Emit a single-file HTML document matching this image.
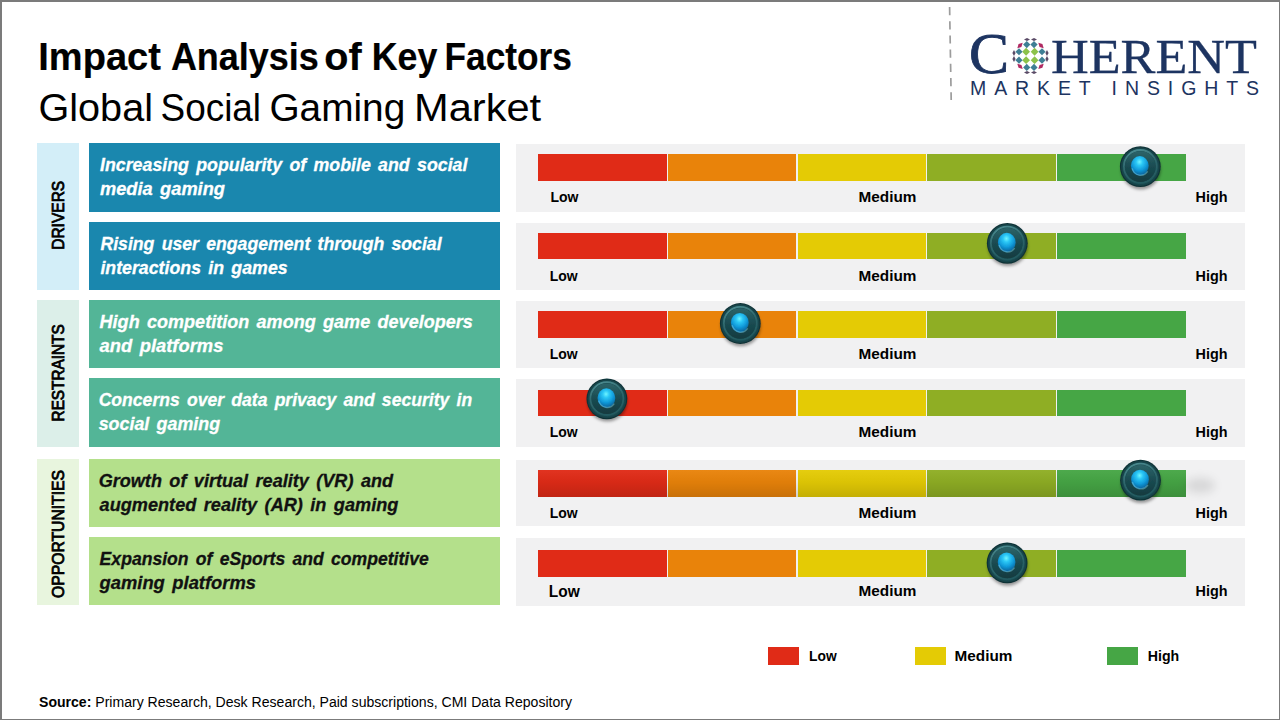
<!DOCTYPE html>
<html><head><meta charset="utf-8"><title>Impact Analysis of Key Factors - Global Social Gaming Market</title>
<style>html,body{margin:0;padding:0;background:#fff;} svg{display:block;}</style></head>
<body><svg width="1280" height="720" viewBox="0 0 1280 720">
<defs>
 <linearGradient id="kRing" x1="0" y1="0" x2="0.3" y2="1">
  <stop offset="0%" stop-color="#4f9095"/>
  <stop offset="50%" stop-color="#2f686d"/>
  <stop offset="100%" stop-color="#245a5f"/>
 </linearGradient>
 <linearGradient id="kBowl" x1="0" y1="0" x2="0" y2="1">
  <stop offset="0%" stop-color="#2d6469"/>
  <stop offset="50%" stop-color="#1a4b51"/>
  <stop offset="100%" stop-color="#123a3f"/>
 </linearGradient>
 <radialGradient id="kOuter" cx="50%" cy="50%" r="50%">
  <stop offset="0%" stop-color="#1c4d53"/>
  <stop offset="90%" stop-color="#1a4a50"/>
  <stop offset="100%" stop-color="#143e43"/>
 </radialGradient>
 <radialGradient id="kBall" cx="48%" cy="30%" r="65%">
  <stop offset="0%" stop-color="#6ff4ff"/>
  <stop offset="28%" stop-color="#2cc8f6"/>
  <stop offset="68%" stop-color="#1098d8"/>
  <stop offset="100%" stop-color="#0b6aa2"/>
 </radialGradient>
 <filter id="kShadow" x="-50%" y="-50%" width="200%" height="200%"><feGaussianBlur stdDeviation="1.8"/></filter>
 <filter id="kSoft" x="-10%" y="-10%" width="120%" height="120%"><feGaussianBlur stdDeviation="0.45"/></filter>
 <linearGradient id="b5shade" x1="0" y1="0" x2="0" y2="1">
  <stop offset="0%" stop-color="#fff" stop-opacity="0.04"/>
  <stop offset="45%" stop-color="#000" stop-opacity="0.04"/>
  <stop offset="100%" stop-color="#000" stop-opacity="0.14"/>
 </linearGradient>
 <filter id="bShadow" x="-100%" y="-100%" width="300%" height="300%"><feGaussianBlur stdDeviation="4"/></filter>

</defs>

<rect x="0" y="0" width="1280" height="720" fill="#7b7b7b"/>
<rect x="2" y="2" width="1277" height="717" fill="#ffffff"/>
<text x="38.30" y="70" font-family='"Liberation Sans", sans-serif' font-size="39.4" font-weight="bold" font-style="normal" fill="#000" textLength="122.63" lengthAdjust="spacingAndGlyphs" stroke="#000" stroke-width="0.2">Impact</text>
<text x="170.89" y="70" font-family='"Liberation Sans", sans-serif' font-size="39.4" font-weight="bold" font-style="normal" fill="#000" textLength="147.97" lengthAdjust="spacingAndGlyphs" stroke="#000" stroke-width="0.2">Analysis</text>
<text x="324.19" y="70" font-family='"Liberation Sans", sans-serif' font-size="39.4" font-weight="bold" font-style="normal" fill="#000" textLength="37.40" lengthAdjust="spacingAndGlyphs" stroke="#000" stroke-width="0.2">of</text>
<text x="371.78" y="70" font-family='"Liberation Sans", sans-serif' font-size="39.4" font-weight="bold" font-style="normal" fill="#000" textLength="65.56" lengthAdjust="spacingAndGlyphs" stroke="#000" stroke-width="0.2">Key</text>
<text x="444.52" y="70" font-family='"Liberation Sans", sans-serif' font-size="39.4" font-weight="bold" font-style="normal" fill="#000" textLength="127.35" lengthAdjust="spacingAndGlyphs" stroke="#000" stroke-width="0.2">Factors</text>
<text x="38.48" y="121" font-family='"Liberation Sans", sans-serif' font-size="39.2" font-weight="normal" font-style="normal" fill="#000" textLength="114.53" lengthAdjust="spacingAndGlyphs" >Global</text>
<text x="160.52" y="121" font-family='"Liberation Sans", sans-serif' font-size="39.2" font-weight="normal" font-style="normal" fill="#000" textLength="100.56" lengthAdjust="spacingAndGlyphs" >Social</text>
<text x="269.42" y="121" font-family='"Liberation Sans", sans-serif' font-size="39.2" font-weight="normal" font-style="normal" fill="#000" textLength="135.88" lengthAdjust="spacingAndGlyphs" >Gaming</text>
<text x="414.02" y="121" font-family='"Liberation Sans", sans-serif' font-size="39.2" font-weight="normal" font-style="normal" fill="#000" textLength="127.14" lengthAdjust="spacingAndGlyphs" >Market</text>
<rect x="37" y="143" width="42" height="147" fill="#d3eef8"/>
<text transform="translate(64.1 215.3) rotate(-90)" x="0" y="0" font-family='"Liberation Sans", sans-serif' font-size="17.2" font-weight="normal" fill="#000" stroke="#000" stroke-width="0.85" text-anchor="middle" textLength="69" lengthAdjust="spacingAndGlyphs">DRIVERS</text>
<rect x="37" y="300" width="42" height="147" fill="#dcefe9"/>
<text transform="translate(64.1 372.9) rotate(-90)" x="0" y="0" font-family='"Liberation Sans", sans-serif' font-size="17.2" font-weight="normal" fill="#000" stroke="#000" stroke-width="0.85" text-anchor="middle" textLength="97" lengthAdjust="spacingAndGlyphs">RESTRAINTS</text>
<rect x="37" y="459" width="42" height="146" fill="#e8f5de"/>
<text transform="translate(64.1 534) rotate(-90)" x="0" y="0" font-family='"Liberation Sans", sans-serif' font-size="17.2" font-weight="normal" fill="#000" stroke="#000" stroke-width="0.85" text-anchor="middle" textLength="128" lengthAdjust="spacingAndGlyphs">OPPORTUNITIES</text>
<rect x="89" y="143" width="411" height="69" fill="#1a87ae"/>
<text x="100.00" y="170.6" font-family='"Liberation Sans", sans-serif' font-size="18.9" font-weight="bold" font-style="italic" fill="#ffffff" textLength="367.43" lengthAdjust="spacingAndGlyphs" word-spacing="2.5" stroke="#ffffff" stroke-width="0.3">Increasing popularity of mobile and social</text>
<text x="100.00" y="194.6" font-family='"Liberation Sans", sans-serif' font-size="18.9" font-weight="bold" font-style="italic" fill="#ffffff" textLength="124.90" lengthAdjust="spacingAndGlyphs" word-spacing="2.5" stroke="#ffffff" stroke-width="0.3">media gaming</text>
<rect x="89" y="222" width="411" height="68" fill="#1a87ae"/>
<text x="100.40" y="249.6" font-family='"Liberation Sans", sans-serif' font-size="18.9" font-weight="bold" font-style="italic" fill="#ffffff" textLength="341.20" lengthAdjust="spacingAndGlyphs" word-spacing="2.5" stroke="#ffffff" stroke-width="0.3">Rising user engagement through social</text>
<text x="100.40" y="273.6" font-family='"Liberation Sans", sans-serif' font-size="18.9" font-weight="bold" font-style="italic" fill="#ffffff" textLength="187.25" lengthAdjust="spacingAndGlyphs" word-spacing="2.5" stroke="#ffffff" stroke-width="0.3">interactions in games</text>
<rect x="89" y="300" width="411" height="68" fill="#53b597"/>
<text x="99.60" y="327.6" font-family='"Liberation Sans", sans-serif' font-size="18.9" font-weight="bold" font-style="italic" fill="#ffffff" textLength="373.18" lengthAdjust="spacingAndGlyphs" word-spacing="2.5" stroke="#ffffff" stroke-width="0.3">High competition among game developers</text>
<text x="99.60" y="351.6" font-family='"Liberation Sans", sans-serif' font-size="18.9" font-weight="bold" font-style="italic" fill="#ffffff" textLength="123.77" lengthAdjust="spacingAndGlyphs" word-spacing="2.5" stroke="#ffffff" stroke-width="0.3">and platforms</text>
<rect x="89" y="378" width="411" height="69" fill="#53b597"/>
<text x="98.67" y="405.6" font-family='"Liberation Sans", sans-serif' font-size="18.9" font-weight="bold" font-style="italic" fill="#ffffff" textLength="373.46" lengthAdjust="spacingAndGlyphs" word-spacing="2.5" stroke="#ffffff" stroke-width="0.3">Concerns over data privacy and security in</text>
<text x="98.65" y="429.6" font-family='"Liberation Sans", sans-serif' font-size="18.9" font-weight="bold" font-style="italic" fill="#ffffff" textLength="121.50" lengthAdjust="spacingAndGlyphs" word-spacing="2.5" stroke="#ffffff" stroke-width="0.3">social gaming</text>
<rect x="89" y="459" width="411" height="68" fill="#b4e08b"/>
<text x="98.64" y="486.6" font-family='"Liberation Sans", sans-serif' font-size="18.9" font-weight="bold" font-style="italic" fill="#111111" textLength="294.42" lengthAdjust="spacingAndGlyphs" word-spacing="2.5" stroke="#111111" stroke-width="0.3">Growth of virtual reality (VR) and</text>
<text x="99.60" y="510.6" font-family='"Liberation Sans", sans-serif' font-size="18.9" font-weight="bold" font-style="italic" fill="#111111" textLength="298.74" lengthAdjust="spacingAndGlyphs" word-spacing="2.5" stroke="#111111" stroke-width="0.3">augmented reality (AR) in gaming</text>
<rect x="89" y="537" width="411" height="68" fill="#b4e08b"/>
<text x="99.60" y="564.6" font-family='"Liberation Sans", sans-serif' font-size="18.9" font-weight="bold" font-style="italic" fill="#111111" textLength="329.23" lengthAdjust="spacingAndGlyphs" word-spacing="2.5" stroke="#111111" stroke-width="0.3">Expansion of eSports and competitive</text>
<text x="99.60" y="588.6" font-family='"Liberation Sans", sans-serif' font-size="18.9" font-weight="bold" font-style="italic" fill="#111111" textLength="156.37" lengthAdjust="spacingAndGlyphs" word-spacing="2.5" stroke="#111111" stroke-width="0.3">gaming platforms</text>
<rect x="516" y="144" width="729" height="68" fill="#f1f1f2"/>
<rect x="538" y="154" width="129" height="27" fill="#e02b17"/>
<rect x="668" y="154" width="128" height="27" fill="#e9830a"/>
<rect x="798" y="154" width="128" height="27" fill="#e4cb05"/>
<rect x="927" y="154" width="129" height="27" fill="#8fae24"/>
<rect x="1057" y="154" width="129" height="27" fill="#46a645"/>
<text x="550.50" y="202" font-family='"Liberation Sans", sans-serif' font-size="14" font-weight="bold" font-style="normal" fill="#000" textLength="28.00" lengthAdjust="spacingAndGlyphs" >Low</text>
<text x="858.51" y="202" font-family='"Liberation Sans", sans-serif' font-size="14" font-weight="bold" font-style="normal" fill="#000" textLength="57.87" lengthAdjust="spacingAndGlyphs" >Medium</text>
<text x="1195.57" y="202" font-family='"Liberation Sans", sans-serif' font-size="14" font-weight="bold" font-style="normal" fill="#000" textLength="31.97" lengthAdjust="spacingAndGlyphs" >High</text>
<g transform="translate(1140.3 166.6)">
  <circle cx="0.5" cy="2.8" r="20" fill="rgba(0,0,0,0.38)" filter="url(#kShadow)"/>
  <g filter="url(#kSoft)">
  <circle cx="0" cy="0" r="20.4" fill="#0f3236"/>
  <circle cx="0" cy="0" r="19.4" fill="url(#kOuter)"/>
  <circle cx="0" cy="-0.2" r="16.4" fill="none" stroke="url(#kRing)" stroke-width="1.8"/>
  <circle cx="0" cy="0" r="15.3" fill="url(#kBowl)"/>
  <ellipse cx="-0.5" cy="-0.8" rx="8.9" ry="9.7" fill="url(#kBall)"/>
  <path d="M -8.2 1.8 A 8.9 9.7 0 0 0 7.4 4.8" fill="none" stroke="#8fe6fa" stroke-width="1.4" opacity="0.4"/>
  </g>
</g>
<rect x="516" y="223" width="729" height="67" fill="#f1f1f2"/>
<rect x="538" y="233" width="129" height="26" fill="#e02b17"/>
<rect x="668" y="233" width="128" height="26" fill="#e9830a"/>
<rect x="798" y="233" width="128" height="26" fill="#e4cb05"/>
<rect x="927" y="233" width="129" height="26" fill="#8fae24"/>
<rect x="1057" y="233" width="129" height="26" fill="#46a645"/>
<text x="549.80" y="281" font-family='"Liberation Sans", sans-serif' font-size="14" font-weight="bold" font-style="normal" fill="#000" textLength="27.90" lengthAdjust="spacingAndGlyphs" >Low</text>
<text x="858.51" y="281" font-family='"Liberation Sans", sans-serif' font-size="14" font-weight="bold" font-style="normal" fill="#000" textLength="57.87" lengthAdjust="spacingAndGlyphs" >Medium</text>
<text x="1195.57" y="281" font-family='"Liberation Sans", sans-serif' font-size="14" font-weight="bold" font-style="normal" fill="#000" textLength="31.97" lengthAdjust="spacingAndGlyphs" >High</text>
<g transform="translate(1007.3 243.3)">
  <circle cx="0.5" cy="2.8" r="20" fill="rgba(0,0,0,0.38)" filter="url(#kShadow)"/>
  <g filter="url(#kSoft)">
  <circle cx="0" cy="0" r="20.4" fill="#0f3236"/>
  <circle cx="0" cy="0" r="19.4" fill="url(#kOuter)"/>
  <circle cx="0" cy="-0.2" r="16.4" fill="none" stroke="url(#kRing)" stroke-width="1.8"/>
  <circle cx="0" cy="0" r="15.3" fill="url(#kBowl)"/>
  <ellipse cx="-0.5" cy="-0.8" rx="8.9" ry="9.7" fill="url(#kBall)"/>
  <path d="M -8.2 1.8 A 8.9 9.7 0 0 0 7.4 4.8" fill="none" stroke="#8fe6fa" stroke-width="1.4" opacity="0.4"/>
  </g>
</g>
<rect x="516" y="301" width="729" height="67" fill="#f1f1f2"/>
<rect x="538" y="311" width="129" height="27" fill="#e02b17"/>
<rect x="668" y="311" width="128" height="27" fill="#e9830a"/>
<rect x="798" y="311" width="128" height="27" fill="#e4cb05"/>
<rect x="927" y="311" width="129" height="27" fill="#8fae24"/>
<rect x="1057" y="311" width="129" height="27" fill="#46a645"/>
<text x="549.80" y="359" font-family='"Liberation Sans", sans-serif' font-size="14" font-weight="bold" font-style="normal" fill="#000" textLength="27.90" lengthAdjust="spacingAndGlyphs" >Low</text>
<text x="858.51" y="359" font-family='"Liberation Sans", sans-serif' font-size="14" font-weight="bold" font-style="normal" fill="#000" textLength="57.87" lengthAdjust="spacingAndGlyphs" >Medium</text>
<text x="1195.57" y="359" font-family='"Liberation Sans", sans-serif' font-size="14" font-weight="bold" font-style="normal" fill="#000" textLength="31.97" lengthAdjust="spacingAndGlyphs" >High</text>
<g transform="translate(740.3 323.5)">
  <circle cx="0.5" cy="2.8" r="20" fill="rgba(0,0,0,0.38)" filter="url(#kShadow)"/>
  <g filter="url(#kSoft)">
  <circle cx="0" cy="0" r="20.4" fill="#0f3236"/>
  <circle cx="0" cy="0" r="19.4" fill="url(#kOuter)"/>
  <circle cx="0" cy="-0.2" r="16.4" fill="none" stroke="url(#kRing)" stroke-width="1.8"/>
  <circle cx="0" cy="0" r="15.3" fill="url(#kBowl)"/>
  <ellipse cx="-0.5" cy="-0.8" rx="8.9" ry="9.7" fill="url(#kBall)"/>
  <path d="M -8.2 1.8 A 8.9 9.7 0 0 0 7.4 4.8" fill="none" stroke="#8fe6fa" stroke-width="1.4" opacity="0.4"/>
  </g>
</g>
<rect x="516" y="379" width="729" height="68" fill="#f1f1f2"/>
<rect x="538" y="390" width="129" height="26" fill="#e02b17"/>
<rect x="668" y="390" width="128" height="26" fill="#e9830a"/>
<rect x="798" y="390" width="128" height="26" fill="#e4cb05"/>
<rect x="927" y="390" width="129" height="26" fill="#8fae24"/>
<rect x="1057" y="390" width="129" height="26" fill="#46a645"/>
<text x="549.80" y="437" font-family='"Liberation Sans", sans-serif' font-size="14" font-weight="bold" font-style="normal" fill="#000" textLength="27.90" lengthAdjust="spacingAndGlyphs" >Low</text>
<text x="858.51" y="437" font-family='"Liberation Sans", sans-serif' font-size="14" font-weight="bold" font-style="normal" fill="#000" textLength="57.87" lengthAdjust="spacingAndGlyphs" >Medium</text>
<text x="1195.57" y="437" font-family='"Liberation Sans", sans-serif' font-size="14" font-weight="bold" font-style="normal" fill="#000" textLength="31.97" lengthAdjust="spacingAndGlyphs" >High</text>
<g transform="translate(606.9 398.8)">
  <circle cx="0.5" cy="2.8" r="20" fill="rgba(0,0,0,0.38)" filter="url(#kShadow)"/>
  <g filter="url(#kSoft)">
  <circle cx="0" cy="0" r="20.4" fill="#0f3236"/>
  <circle cx="0" cy="0" r="19.4" fill="url(#kOuter)"/>
  <circle cx="0" cy="-0.2" r="16.4" fill="none" stroke="url(#kRing)" stroke-width="1.8"/>
  <circle cx="0" cy="0" r="15.3" fill="url(#kBowl)"/>
  <ellipse cx="-0.5" cy="-0.8" rx="8.9" ry="9.7" fill="url(#kBall)"/>
  <path d="M -8.2 1.8 A 8.9 9.7 0 0 0 7.4 4.8" fill="none" stroke="#8fe6fa" stroke-width="1.4" opacity="0.4"/>
  </g>
</g>
<rect x="516" y="460" width="729" height="66" fill="#f1f1f2"/>
<rect x="538" y="470" width="129" height="27" fill="#e02b17"/>
<rect x="668" y="470" width="128" height="27" fill="#e9830a"/>
<rect x="798" y="470" width="128" height="27" fill="#e4cb05"/>
<rect x="927" y="470" width="129" height="27" fill="#8fae24"/>
<rect x="1057" y="470" width="129" height="27" fill="#46a645"/>
<text x="549.80" y="518" font-family='"Liberation Sans", sans-serif' font-size="14" font-weight="bold" font-style="normal" fill="#000" textLength="27.90" lengthAdjust="spacingAndGlyphs" >Low</text>
<text x="858.51" y="518" font-family='"Liberation Sans", sans-serif' font-size="14" font-weight="bold" font-style="normal" fill="#000" textLength="57.87" lengthAdjust="spacingAndGlyphs" >Medium</text>
<text x="1195.57" y="518" font-family='"Liberation Sans", sans-serif' font-size="14" font-weight="bold" font-style="normal" fill="#000" textLength="31.97" lengthAdjust="spacingAndGlyphs" >High</text>
<rect x="538" y="470" width="648" height="27" fill="url(#b5shade)"/>
<ellipse cx="1200" cy="485.5" rx="15" ry="8" fill="rgba(0,0,0,0.10)" filter="url(#bShadow)"/>
<g transform="translate(1140.5 480.2)">
  <circle cx="0.5" cy="2.8" r="20" fill="rgba(0,0,0,0.38)" filter="url(#kShadow)"/>
  <g filter="url(#kSoft)">
  <circle cx="0" cy="0" r="20.4" fill="#0f3236"/>
  <circle cx="0" cy="0" r="19.4" fill="url(#kOuter)"/>
  <circle cx="0" cy="-0.2" r="16.4" fill="none" stroke="url(#kRing)" stroke-width="1.8"/>
  <circle cx="0" cy="0" r="15.3" fill="url(#kBowl)"/>
  <ellipse cx="-0.5" cy="-0.8" rx="8.9" ry="9.7" fill="url(#kBall)"/>
  <path d="M -8.2 1.8 A 8.9 9.7 0 0 0 7.4 4.8" fill="none" stroke="#8fe6fa" stroke-width="1.4" opacity="0.4"/>
  </g>
</g>
<rect x="516" y="538" width="729" height="68" fill="#f1f1f2"/>
<rect x="538" y="550" width="129" height="27" fill="#e02b17"/>
<rect x="668" y="550" width="128" height="27" fill="#e9830a"/>
<rect x="798" y="550" width="128" height="27" fill="#e4cb05"/>
<rect x="927" y="550" width="129" height="27" fill="#8fae24"/>
<rect x="1057" y="550" width="129" height="27" fill="#46a645"/>
<text x="548.73" y="597" font-family='"Liberation Sans", sans-serif' font-size="16" font-weight="bold" font-style="normal" fill="#000" textLength="30.97" lengthAdjust="spacingAndGlyphs" >Low</text>
<text x="858.51" y="596" font-family='"Liberation Sans", sans-serif' font-size="14" font-weight="bold" font-style="normal" fill="#000" textLength="57.87" lengthAdjust="spacingAndGlyphs" >Medium</text>
<text x="1195.57" y="596" font-family='"Liberation Sans", sans-serif' font-size="14" font-weight="bold" font-style="normal" fill="#000" textLength="31.97" lengthAdjust="spacingAndGlyphs" >High</text>
<g transform="translate(1007.1 562.9)">
  <circle cx="0.5" cy="2.8" r="20" fill="rgba(0,0,0,0.38)" filter="url(#kShadow)"/>
  <g filter="url(#kSoft)">
  <circle cx="0" cy="0" r="20.4" fill="#0f3236"/>
  <circle cx="0" cy="0" r="19.4" fill="url(#kOuter)"/>
  <circle cx="0" cy="-0.2" r="16.4" fill="none" stroke="url(#kRing)" stroke-width="1.8"/>
  <circle cx="0" cy="0" r="15.3" fill="url(#kBowl)"/>
  <ellipse cx="-0.5" cy="-0.8" rx="8.9" ry="9.7" fill="url(#kBall)"/>
  <path d="M -8.2 1.8 A 8.9 9.7 0 0 0 7.4 4.8" fill="none" stroke="#8fe6fa" stroke-width="1.4" opacity="0.4"/>
  </g>
</g>
<rect x="768" y="647" width="31" height="18" fill="#e02b17"/>
<text x="809.05" y="661" font-family='"Liberation Sans", sans-serif' font-size="14.5" font-weight="bold" font-style="normal" fill="#000" textLength="27.55" lengthAdjust="spacingAndGlyphs" >Low</text>
<rect x="915" y="647" width="31" height="18" fill="#e4cb05"/>
<text x="954.55" y="661" font-family='"Liberation Sans", sans-serif' font-size="14.5" font-weight="bold" font-style="normal" fill="#000" textLength="57.78" lengthAdjust="spacingAndGlyphs" >Medium</text>
<rect x="1107" y="647" width="31" height="18" fill="#46a645"/>
<text x="1147.72" y="661" font-family='"Liberation Sans", sans-serif' font-size="14.5" font-weight="bold" font-style="normal" fill="#000" textLength="31.47" lengthAdjust="spacingAndGlyphs" >High</text>
<text x="39" y="706.5" font-family='"Liberation Sans", sans-serif' font-size="13.8" fill="#000" textLength="533" lengthAdjust="spacingAndGlyphs"><tspan font-weight="bold">Source:</tspan> Primary Research, Desk Research, Paid subscriptions, CMI Data Repository</text>
<line x1="949.6" y1="7" x2="951.2" y2="100" stroke="#9c9c9c" stroke-width="1.7" stroke-dasharray="8.2 6"/>
<text x="969" y="73" font-family='"Liberation Serif", serif' font-size="56.5" fill="#1d3461" stroke="#1d3461" stroke-width="0.8" textLength="40" lengthAdjust="spacingAndGlyphs">C</text>
<text x="1051" y="72.6" font-family='"Liberation Serif", serif' font-size="48" fill="#1d3461" stroke="#1d3461" stroke-width="0.3" textLength="206" lengthAdjust="spacingAndGlyphs">HERENT</text>
<text x="970" y="95" font-family='"Liberation Sans", sans-serif' font-size="19.5" fill="#1d3461" textLength="289" lengthAdjust="spacing">MARKET INSIGHTS</text>
<polygon transform="translate(1026.1 51.75) rotate(0)" points="0,-3.9 3.9,0 0,3.9 -3.9,0" fill="#8cc24a"/>
<polygon transform="translate(1034.6 51.75) rotate(0)" points="0,-3.9 3.9,0 0,3.9 -3.9,0" fill="#8cc24a"/>
<polygon transform="translate(1026.1 60.2) rotate(0)" points="0,-3.9 3.9,0 0,3.9 -3.9,0" fill="#8cc24a"/>
<polygon transform="translate(1034.6 60.2) rotate(0)" points="0,-3.9 3.9,0 0,3.9 -3.9,0" fill="#8cc24a"/>
<polygon transform="translate(1026.75 44.6) rotate(0)" points="0,-3.6 3.6,0 0,3.6 -3.6,0" fill="#3f7f95"/>
<polygon transform="translate(1034 44.6) rotate(0)" points="0,-3.6 3.6,0 0,3.6 -3.6,0" fill="#3f7f95"/>
<polygon transform="translate(1019 51.75) rotate(0)" points="0,-3.6 3.6,0 0,3.6 -3.6,0" fill="#3f7f95"/>
<polygon transform="translate(1019 60.2) rotate(0)" points="0,-3.6 3.6,0 0,3.6 -3.6,0" fill="#3f7f95"/>
<polygon transform="translate(1042 51.75) rotate(0)" points="0,-3.6 3.6,0 0,3.6 -3.6,0" fill="#3f7f95"/>
<polygon transform="translate(1042 60.2) rotate(0)" points="0,-3.6 3.6,0 0,3.6 -3.6,0" fill="#3f7f95"/>
<polygon transform="translate(1026.75 67.4) rotate(0)" points="0,-3.6 3.6,0 0,3.6 -3.6,0" fill="#3f7f95"/>
<polygon transform="translate(1034 67.4) rotate(0)" points="0,-3.6 3.6,0 0,3.6 -3.6,0" fill="#3f7f95"/>
<polygon transform="translate(1020 45.5) rotate(-45)" points="0,-2.0 3.8,0 0,2.0 -3.8,0" fill="#b02a62"/>
<polygon transform="translate(1041 45.5) rotate(45)" points="0,-2.0 3.8,0 0,2.0 -3.8,0" fill="#b02a62"/>
<polygon transform="translate(1020 66.4) rotate(45)" points="0,-2.0 3.8,0 0,2.0 -3.8,0" fill="#b02a62"/>
<polygon transform="translate(1041 66.4) rotate(-45)" points="0,-2.0 3.8,0 0,2.0 -3.8,0" fill="#b02a62"/>
<polygon transform="translate(1027 39.5) rotate(0)" points="0,-1.6 3.0,0 0,1.6 -3.0,0" fill="#5a4a66"/>
<polygon transform="translate(1034 39.5) rotate(0)" points="0,-1.6 3.0,0 0,1.6 -3.0,0" fill="#5a4a66"/>
<polygon transform="translate(1027 72.5) rotate(0)" points="0,-1.6 3.0,0 0,1.6 -3.0,0" fill="#5a4a66"/>
<polygon transform="translate(1034 72.5) rotate(0)" points="0,-1.6 3.0,0 0,1.6 -3.0,0" fill="#5a4a66"/>
<polygon transform="translate(1014 53) rotate(90)" points="0,-1.6 3.0,0 0,1.6 -3.0,0" fill="#5a4a66"/>
<polygon transform="translate(1014 59) rotate(90)" points="0,-1.6 3.0,0 0,1.6 -3.0,0" fill="#5a4a66"/>
<polygon transform="translate(1047 53) rotate(90)" points="0,-1.6 3.0,0 0,1.6 -3.0,0" fill="#5a4a66"/>
<polygon transform="translate(1047 59) rotate(90)" points="0,-1.6 3.0,0 0,1.6 -3.0,0" fill="#5a4a66"/>
</svg></body></html>
